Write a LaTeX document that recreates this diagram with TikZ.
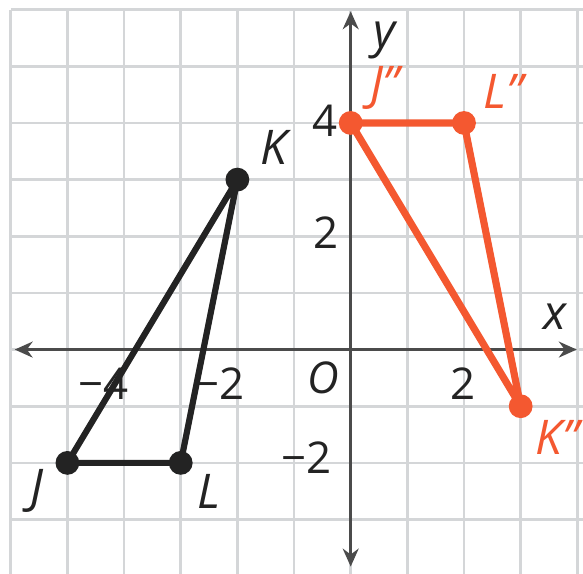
\documentclass[tikz,border=0pt]{standalone}
\usepackage{fontspec}
\setmainfont{Open Sans}
\usetikzlibrary{arrows.meta}
\definecolor{gridgray}{RGB}{212,214,216}
\definecolor{axisgray}{RGB}{75,75,75}
\definecolor{inkblack}{RGB}{35,35,35}
\definecolor{imgorange}{RGB}{244,88,48}
\tikzset{
  gridline/.style={draw=gridgray, line width=1.3pt},
  axisline/.style={draw=axisgray, line width=1.4pt, -{Stealth[length=9pt,width=8pt]}},
  blacktri/.style={draw=inkblack, line width=3.1pt, line join=round},
  orangetri/.style={draw=imgorange, line width=3.6pt, line join=round},
  blackdot/.style={circle, fill=inkblack, inner sep=0pt, minimum size=0.42cm},
  orangedot/.style={circle, fill=imgorange, inner sep=0pt, minimum size=0.42cm},
  numlabel/.style={text=inkblack, font=\fontsize{22}{24}\selectfont, inner sep=0pt},
  letlabel/.style={text=inkblack, font=\fontsize{24}{26}\selectfont\itshape, inner sep=0pt},
  orangelabel/.style={text=imgorange, font=\fontsize{24}{26}\selectfont\itshape, inner sep=0pt}
}
\begin{document}
\begin{tikzpicture}[x=1cm,y=1cm]
\useasboundingbox (-6.19,-3.95) rectangle (4.10,6.17);
\fill[white] (-6.19,-3.95) rectangle (4.10,6.17);
% grid
\foreach \gx in {-6,...,4} {\draw[gridline] (\gx,6) -- (\gx,-4.1);}
\foreach \gy in {-4,...,6} {\draw[gridline] (-6,\gy) -- (4.2,\gy);}
% axes
\coordinate (xl) at (-5.93,0);
\coordinate (xr) at (3.99,0);
\coordinate (yt) at (0,5.97);
\coordinate (yb) at (0,-3.83);
\coordinate (O) at (0,0);
\draw[axisline] (O) -- (xl);
\draw[axisline] (O) -- (xr);
\draw[axisline] (O) -- (yt);
\draw[axisline] (O) -- (yb);
% axis labels
\node[letlabel] (xlab) at (3.6,0.58) {x};
\node[letlabel] (ylab) at (0.6,5.45) {y};
\node[numlabel, font=\fontsize{22}{24}\selectfont\itshape] (olab) at (-0.49,-0.5) {O};
\node[numlabel] (xm4) at (-4.36,-0.6) {−4};
\node[numlabel] (xm2) at (-2.32,-0.6) {−2};
\node[numlabel] (xp2) at (1.98,-0.6) {2};
\node[numlabel] (yp4) at (-0.45,4.04) {4};
\node[numlabel] (yp2) at (-0.44,2.06) {2};
\node[numlabel] (ym2) at (-0.78,-1.9) {−2};
% black triangle
\coordinate (J) at (-5,-2);
\coordinate (K) at (-2,3);
\coordinate (L) at (-3,-2);
\draw[blacktri] (J) -- (K) -- (L) -- cycle;
\node[blackdot] (Jd) at (J) {};
\node[blackdot] (Kd) at (K) {};
\node[blackdot] (Ld) at (L) {};
\node[letlabel] (Jlab) at (-5.54,-2.5) {J};
\node[letlabel] (Klab) at (-1.36,3.56) {K};
\node[letlabel] (Llab) at (-2.5,-2.5) {L};
% orange triangle
\coordinate (J2) at (0,4);
\coordinate (L2) at (2,4);
\coordinate (K2) at (3,-1);
\draw[orangetri] (J2) -- (L2) -- (K2) -- cycle;
\node[orangedot] (J2d) at (J2) {};
\node[orangedot] (L2d) at (L2) {};
\node[orangedot] (K2d) at (K2) {};
\node[orangelabel] (J2lab) at (0.6,4.62) {J\char34};
\node[orangelabel] (L2lab) at (2.7,4.55) {L\char34};
\node[orangelabel] (K2lab) at (3.64,-1.55) {K\char34};
\end{tikzpicture}
\end{document}
